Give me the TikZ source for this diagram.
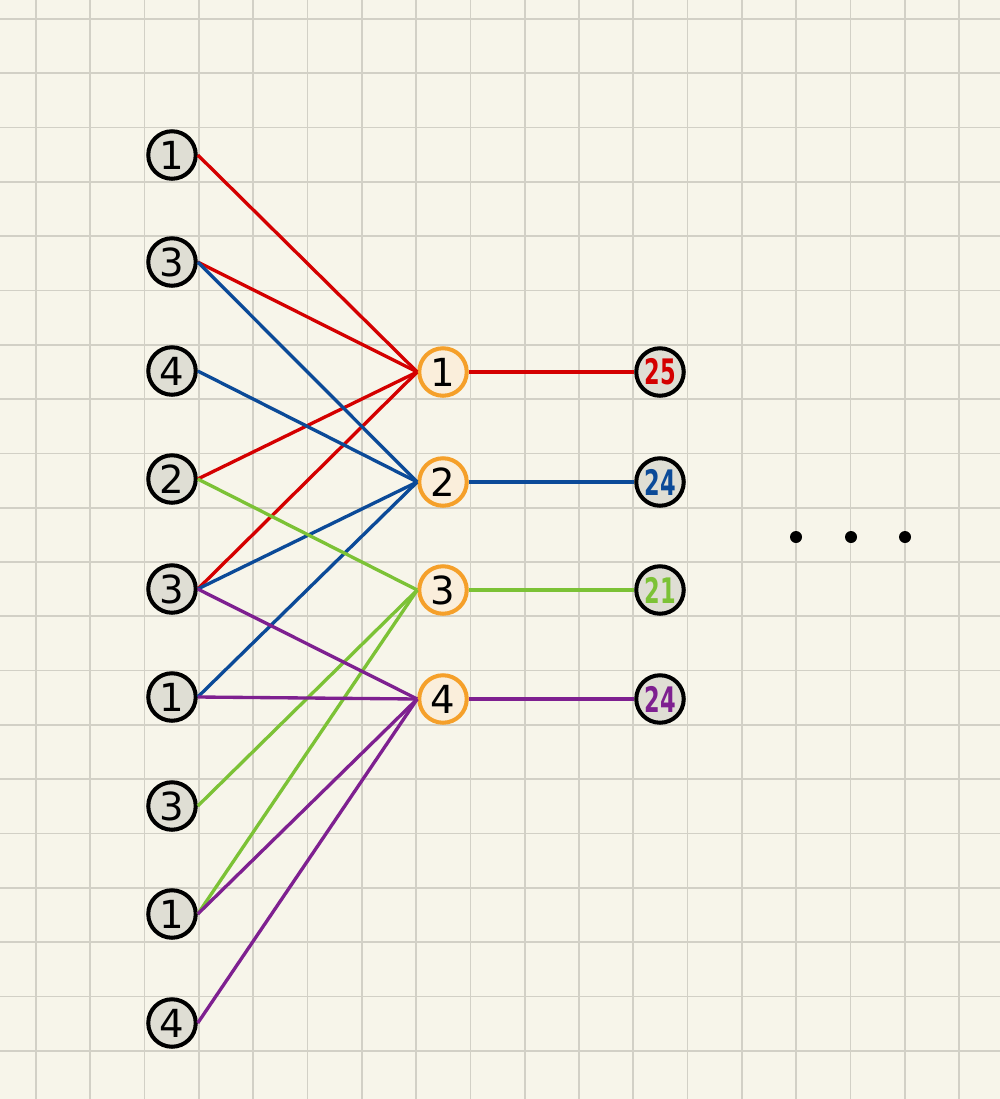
\documentclass[tikz,border=0pt]{standalone}
\usepackage{fontspec}
\setmainfont{DejaVu Sans}
\definecolor{bg}{HTML}{F7F5EA}
\definecolor{gridc}{HTML}{D2D0C6}
\definecolor{lfill}{HTML}{DFDED4}
\definecolor{mfill}{HTML}{FAEEDB}
\definecolor{morange}{HTML}{F5A02A}
\definecolor{cred}{HTML}{D40000}
\definecolor{cblue}{HTML}{0B4A98}
\definecolor{cgreen}{HTML}{7CC236}
\definecolor{cpurple}{HTML}{7E2090}
\newcommand{\rtxt}[1]{\scalebox{0.64}[1]{#1}}
\begin{document}
\begin{tikzpicture}[x=0.02cm,y=-0.02cm,
  lnode/.style={circle,draw=black,line width=2.3pt,fill=lfill,minimum size=0.95cm,inner sep=0pt,font=\fontsize{22}{22}\selectfont},
  mnode/.style={circle,draw=morange,line width=2.3pt,fill=mfill,minimum size=0.95cm,inner sep=0pt,font=\fontsize{22}{22}\selectfont},
  rnode/.style={circle,draw=black,line width=2.3pt,fill=lfill,minimum size=0.95cm,inner sep=0pt,font=\bfseries\fontsize{20}{20}\selectfont},
  edge/.style={line width=1.9pt},
  dotc/.style={circle,fill=black,minimum size=0.24cm,inner sep=0pt}]
\fill[bg] (0,0) rectangle (1000,1099);
\useasboundingbox (0,0) rectangle (1000,1099);
\foreach \k in {0,...,17} {\draw[gridc,line width=1pt] ({36+54.3*\k},0) -- ({36+54.3*\k},1099);}
\foreach \k in {0,...,19} {\draw[gridc,line width=1pt] (0,{19+54.3*\k}) -- (1000,{19+54.3*\k});}
% left nodes
\node[lnode] (l1) at (172,155) {1};
\node[lnode] (l2) at (172,262) {3};
\node[lnode] (l3) at (172,371) {4};
\node[lnode] (l4) at (172,479) {2};
\node[lnode] (l5) at (172,589) {3};
\node[lnode] (l6) at (172,697) {1};
\node[lnode] (l7) at (172,806) {3};
\node[lnode] (l8) at (172,914) {1};
\node[lnode] (l9) at (172,1023) {4};
% middle nodes
\node[mnode] (m1) at (443,372) {1};
\node[mnode] (m2) at (443,482) {2};
\node[mnode] (m3) at (443,590) {3};
\node[mnode] (m4) at (443,699) {4};
% right nodes
\node[rnode,text=cred] (r1) at (660,372) {\rtxt{25}};
\node[rnode,text=cblue] (r2) at (660,482) {\rtxt{24}};
\node[rnode,text=cgreen] (r3) at (660,590) {\rtxt{21}};
\node[rnode,text=cpurple] (r4) at (660,699) {\rtxt{24}};
% dots
\node[dotc] (d1) at (796,537) {};
\node[dotc] (d2) at (851,537) {};
\node[dotc] (d3) at (905,537) {};
% edges
\draw[edge,cred] (l1.east) -- (m1.west);
\draw[edge,cred] (l2.east) -- (m1.west);
\draw[edge,cred] (l4.east) -- (m1.west);
\draw[edge,cred] (l5.east) -- (m1.west);
\draw[edge,cblue] (l2.east) -- (m2.west);
\draw[edge,cblue] (l3.east) -- (m2.west);
\draw[edge,cblue] (l5.east) -- (m2.west);
\draw[edge,cblue] (l6.east) -- (m2.west);
\draw[edge,cgreen] (l4.east) -- (m3.west);
\draw[edge,cgreen] (l7.east) -- (m3.west);
\draw[edge,cgreen] (l8.east) -- (m3.west);
\draw[edge,cpurple] (l5.east) -- (m4.west);
\draw[edge,cpurple] (l6.east) -- (m4.west);
\draw[edge,cpurple] (l8.east) -- (m4.west);
\draw[edge,cpurple] (l9.east) -- (m4.west);
\draw[edge,cred] (m1.east) -- (r1.west);
\draw[edge,cblue] (m2.east) -- (r2.west);
\draw[edge,cgreen] (m3.east) -- (r3.west);
\draw[edge,cpurple] (m4.east) -- (r4.west);
\end{tikzpicture}
\end{document}
